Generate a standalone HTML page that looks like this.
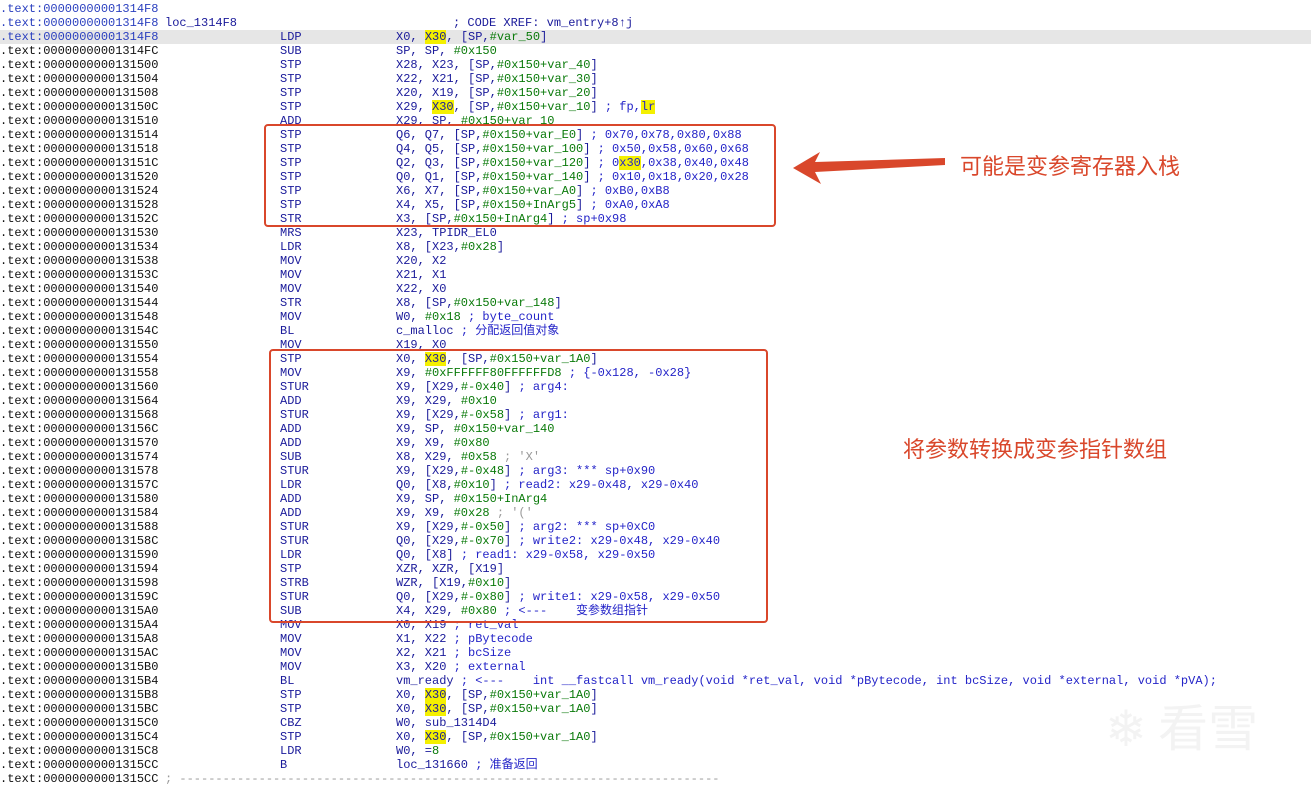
<!DOCTYPE html>
<html><head><meta charset="utf-8"><style>
body{margin:0;width:1311px;height:789px;background:#fff;position:relative;overflow:hidden;font-family:"Liberation Mono","Noto Sans CJK SC",monospace;font-size:12px;}
.r{position:absolute;left:0;height:14px;line-height:14px;white-space:pre;width:1311px}
.r span{position:absolute;top:0}
.a{left:0;color:#111}
.b{color:#2a3fbf !important}
.m{left:280px;color:#1a1a9a}
.o{left:396px;color:#1a1a9a}
em{font-style:normal}
.g{color:#0a7a0a}
.c{color:#2424c8}
.h{background:#f4f000}
.gr{color:#999}
.box{position:absolute;border:2px solid #d9472b;border-radius:4px}
.note{position:absolute;color:#d9472b;font-family:"Noto Sans CJK SC",sans-serif;font-size:22px;line-height:26px}
</style></head><body>
<div style="position:absolute;left:0;top:30px;width:1311px;height:14px;background:#e6e6e6"></div>

<div class="r" style="top:2px"><span class="a b">.text:00000000001314F8</span></div>
<div class="r" style="top:16px"><span class="a b">.text:00000000001314F8</span><span style="left:165px;color:#1a1a9a">loc_1314F8</span><span style="left:453px;color:#1a1a9a">; CODE XREF: vm_entry+8↑j</span></div>
<div class="r" style="top:30px"><span class="a b">.text:00000000001314F8</span><span class="m">LDP</span><span class="o">X0, <em class="h">X30</em>, [SP,<em class="g">#var_50</em>]</span></div>
<div class="r" style="top:44px"><span class="a">.text:00000000001314FC</span><span class="m">SUB</span><span class="o">SP, SP, <em class="g">#0x150</em></span></div>
<div class="r" style="top:58px"><span class="a">.text:0000000000131500</span><span class="m">STP</span><span class="o">X28, X23, [SP,<em class="g">#0x150+var_40</em>]</span></div>
<div class="r" style="top:72px"><span class="a">.text:0000000000131504</span><span class="m">STP</span><span class="o">X22, X21, [SP,<em class="g">#0x150+var_30</em>]</span></div>
<div class="r" style="top:86px"><span class="a">.text:0000000000131508</span><span class="m">STP</span><span class="o">X20, X19, [SP,<em class="g">#0x150+var_20</em>]</span></div>
<div class="r" style="top:100px"><span class="a">.text:000000000013150C</span><span class="m">STP</span><span class="o">X29, <em class="h">X30</em>, [SP,<em class="g">#0x150+var_10</em>] <em class="c">; fp,<em class="h">lr</em></em></span></div>
<div class="r" style="top:114px"><span class="a">.text:0000000000131510</span><span class="m">ADD</span><span class="o">X29, SP, <em class="g">#0x150+var_10</em></span></div>
<div class="r" style="top:128px"><span class="a">.text:0000000000131514</span><span class="m">STP</span><span class="o">Q6, Q7, [SP,<em class="g">#0x150+var_E0</em>] <em class="c">; 0x70,0x78,0x80,0x88</em></span></div>
<div class="r" style="top:142px"><span class="a">.text:0000000000131518</span><span class="m">STP</span><span class="o">Q4, Q5, [SP,<em class="g">#0x150+var_100</em>] <em class="c">; 0x50,0x58,0x60,0x68</em></span></div>
<div class="r" style="top:156px"><span class="a">.text:000000000013151C</span><span class="m">STP</span><span class="o">Q2, Q3, [SP,<em class="g">#0x150+var_120</em>] <em class="c">; 0<em class="h">x30</em>,0x38,0x40,0x48</em></span></div>
<div class="r" style="top:170px"><span class="a">.text:0000000000131520</span><span class="m">STP</span><span class="o">Q0, Q1, [SP,<em class="g">#0x150+var_140</em>] <em class="c">; 0x10,0x18,0x20,0x28</em></span></div>
<div class="r" style="top:184px"><span class="a">.text:0000000000131524</span><span class="m">STP</span><span class="o">X6, X7, [SP,<em class="g">#0x150+var_A0</em>] <em class="c">; 0xB0,0xB8</em></span></div>
<div class="r" style="top:198px"><span class="a">.text:0000000000131528</span><span class="m">STP</span><span class="o">X4, X5, [SP,<em class="g">#0x150+InArg5</em>] <em class="c">; 0xA0,0xA8</em></span></div>
<div class="r" style="top:212px"><span class="a">.text:000000000013152C</span><span class="m">STR</span><span class="o">X3, [SP,<em class="g">#0x150+InArg4</em>] <em class="c">; sp+0x98</em></span></div>
<div class="r" style="top:226px"><span class="a">.text:0000000000131530</span><span class="m">MRS</span><span class="o">X23, TPIDR_EL0</span></div>
<div class="r" style="top:240px"><span class="a">.text:0000000000131534</span><span class="m">LDR</span><span class="o">X8, [X23,<em class="g">#0x28</em>]</span></div>
<div class="r" style="top:254px"><span class="a">.text:0000000000131538</span><span class="m">MOV</span><span class="o">X20, X2</span></div>
<div class="r" style="top:268px"><span class="a">.text:000000000013153C</span><span class="m">MOV</span><span class="o">X21, X1</span></div>
<div class="r" style="top:282px"><span class="a">.text:0000000000131540</span><span class="m">MOV</span><span class="o">X22, X0</span></div>
<div class="r" style="top:296px"><span class="a">.text:0000000000131544</span><span class="m">STR</span><span class="o">X8, [SP,<em class="g">#0x150+var_148</em>]</span></div>
<div class="r" style="top:310px"><span class="a">.text:0000000000131548</span><span class="m">MOV</span><span class="o">W0, <em class="g">#0x18</em> <em class="c">; byte_count</em></span></div>
<div class="r" style="top:324px"><span class="a">.text:000000000013154C</span><span class="m">BL</span><span class="o">c_malloc <em class="c">; 分配返回值对象</em></span></div>
<div class="r" style="top:338px"><span class="a">.text:0000000000131550</span><span class="m">MOV</span><span class="o">X19, X0</span></div>
<div class="r" style="top:352px"><span class="a">.text:0000000000131554</span><span class="m">STP</span><span class="o">X0, <em class="h">X30</em>, [SP,<em class="g">#0x150+var_1A0</em>]</span></div>
<div class="r" style="top:366px"><span class="a">.text:0000000000131558</span><span class="m">MOV</span><span class="o">X9, <em class="g">#0xFFFFFF80FFFFFFD8</em> <em class="c">; {-0x128, -0x28}</em></span></div>
<div class="r" style="top:380px"><span class="a">.text:0000000000131560</span><span class="m">STUR</span><span class="o">X9, [X29,<em class="g">#-0x40</em>] <em class="c">; arg4:</em></span></div>
<div class="r" style="top:394px"><span class="a">.text:0000000000131564</span><span class="m">ADD</span><span class="o">X9, X29, <em class="g">#0x10</em></span></div>
<div class="r" style="top:408px"><span class="a">.text:0000000000131568</span><span class="m">STUR</span><span class="o">X9, [X29,<em class="g">#-0x58</em>] <em class="c">; arg1:</em></span></div>
<div class="r" style="top:422px"><span class="a">.text:000000000013156C</span><span class="m">ADD</span><span class="o">X9, SP, <em class="g">#0x150+var_140</em></span></div>
<div class="r" style="top:436px"><span class="a">.text:0000000000131570</span><span class="m">ADD</span><span class="o">X9, X9, <em class="g">#0x80</em></span></div>
<div class="r" style="top:450px"><span class="a">.text:0000000000131574</span><span class="m">SUB</span><span class="o">X8, X29, <em class="g">#0x58</em> <em class="gr">; 'X'</em></span></div>
<div class="r" style="top:464px"><span class="a">.text:0000000000131578</span><span class="m">STUR</span><span class="o">X9, [X29,<em class="g">#-0x48</em>] <em class="c">; arg3: *** sp+0x90</em></span></div>
<div class="r" style="top:478px"><span class="a">.text:000000000013157C</span><span class="m">LDR</span><span class="o">Q0, [X8,<em class="g">#0x10</em>] <em class="c">; read2: x29-0x48, x29-0x40</em></span></div>
<div class="r" style="top:492px"><span class="a">.text:0000000000131580</span><span class="m">ADD</span><span class="o">X9, SP, <em class="g">#0x150+InArg4</em></span></div>
<div class="r" style="top:506px"><span class="a">.text:0000000000131584</span><span class="m">ADD</span><span class="o">X9, X9, <em class="g">#0x28</em> <em class="gr">; '('</em></span></div>
<div class="r" style="top:520px"><span class="a">.text:0000000000131588</span><span class="m">STUR</span><span class="o">X9, [X29,<em class="g">#-0x50</em>] <em class="c">; arg2: *** sp+0xC0</em></span></div>
<div class="r" style="top:534px"><span class="a">.text:000000000013158C</span><span class="m">STUR</span><span class="o">Q0, [X29,<em class="g">#-0x70</em>] <em class="c">; write2: x29-0x48, x29-0x40</em></span></div>
<div class="r" style="top:548px"><span class="a">.text:0000000000131590</span><span class="m">LDR</span><span class="o">Q0, [X8] <em class="c">; read1: x29-0x58, x29-0x50</em></span></div>
<div class="r" style="top:562px"><span class="a">.text:0000000000131594</span><span class="m">STP</span><span class="o">XZR, XZR, [X19]</span></div>
<div class="r" style="top:576px"><span class="a">.text:0000000000131598</span><span class="m">STRB</span><span class="o">WZR, [X19,<em class="g">#0x10</em>]</span></div>
<div class="r" style="top:590px"><span class="a">.text:000000000013159C</span><span class="m">STUR</span><span class="o">Q0, [X29,<em class="g">#-0x80</em>] <em class="c">; write1: x29-0x58, x29-0x50</em></span></div>
<div class="r" style="top:604px"><span class="a">.text:00000000001315A0</span><span class="m">SUB</span><span class="o">X4, X29, <em class="g">#0x80</em> <em class="c">; &lt;---    变参数组指针</em></span></div>
<div class="r" style="top:618px"><span class="a">.text:00000000001315A4</span><span class="m">MOV</span><span class="o">X0, X19 <em class="c">; ret_val</em></span></div>
<div class="r" style="top:632px"><span class="a">.text:00000000001315A8</span><span class="m">MOV</span><span class="o">X1, X22 <em class="c">; pBytecode</em></span></div>
<div class="r" style="top:646px"><span class="a">.text:00000000001315AC</span><span class="m">MOV</span><span class="o">X2, X21 <em class="c">; bcSize</em></span></div>
<div class="r" style="top:660px"><span class="a">.text:00000000001315B0</span><span class="m">MOV</span><span class="o">X3, X20 <em class="c">; external</em></span></div>
<div class="r" style="top:674px"><span class="a">.text:00000000001315B4</span><span class="m">BL</span><span class="o">vm_ready <em class="c">; &lt;---    int __fastcall vm_ready(void *ret_val, void *pBytecode, int bcSize, void *external, void *pVA);</em></span></div>
<div class="r" style="top:688px"><span class="a">.text:00000000001315B8</span><span class="m">STP</span><span class="o">X0, <em class="h">X30</em>, [SP,<em class="g">#0x150+var_1A0</em>]</span></div>
<div class="r" style="top:702px"><span class="a">.text:00000000001315BC</span><span class="m">STP</span><span class="o">X0, <em class="h">X30</em>, [SP,<em class="g">#0x150+var_1A0</em>]</span></div>
<div class="r" style="top:716px"><span class="a">.text:00000000001315C0</span><span class="m">CBZ</span><span class="o">W0, sub_1314D4</span></div>
<div class="r" style="top:730px"><span class="a">.text:00000000001315C4</span><span class="m">STP</span><span class="o">X0, <em class="h">X30</em>, [SP,<em class="g">#0x150+var_1A0</em>]</span></div>
<div class="r" style="top:744px"><span class="a">.text:00000000001315C8</span><span class="m">LDR</span><span class="o">W0, =<em class="g">8</em></span></div>
<div class="r" style="top:758px"><span class="a">.text:00000000001315CC</span><span class="m">B</span><span class="o">loc_131660 <em class="c">; 准备返回</em></span></div>
<div class="r" style="top:772px"><span class="a">.text:00000000001315CC</span><span style="left:165px;color:#999">; ---------------------------------------------------------------------------</span></div>

<div class="box" style="left:264px;top:124px;width:508px;height:99px"></div>
<div class="box" style="left:269px;top:349px;width:495px;height:270px"></div>

<svg style="position:absolute;left:0;top:0" width="1311" height="789">
<polygon points="793,168 820,152 815,162 945,158 945,165 815,172 821,184" fill="#d9472b"/>
</svg>
<div class="note" style="left:960px;top:152px">可能是变参寄存器入栈</div>
<div class="note" style="left:903px;top:435px">将参数转换成变参指针数组</div>
<div style="position:absolute;left:1105px;top:695px;color:#f3f3f3;font-family:'Noto Sans CJK SC',sans-serif;font-size:50px;line-height:60px">❄ 看雪</div>
</body></html>
